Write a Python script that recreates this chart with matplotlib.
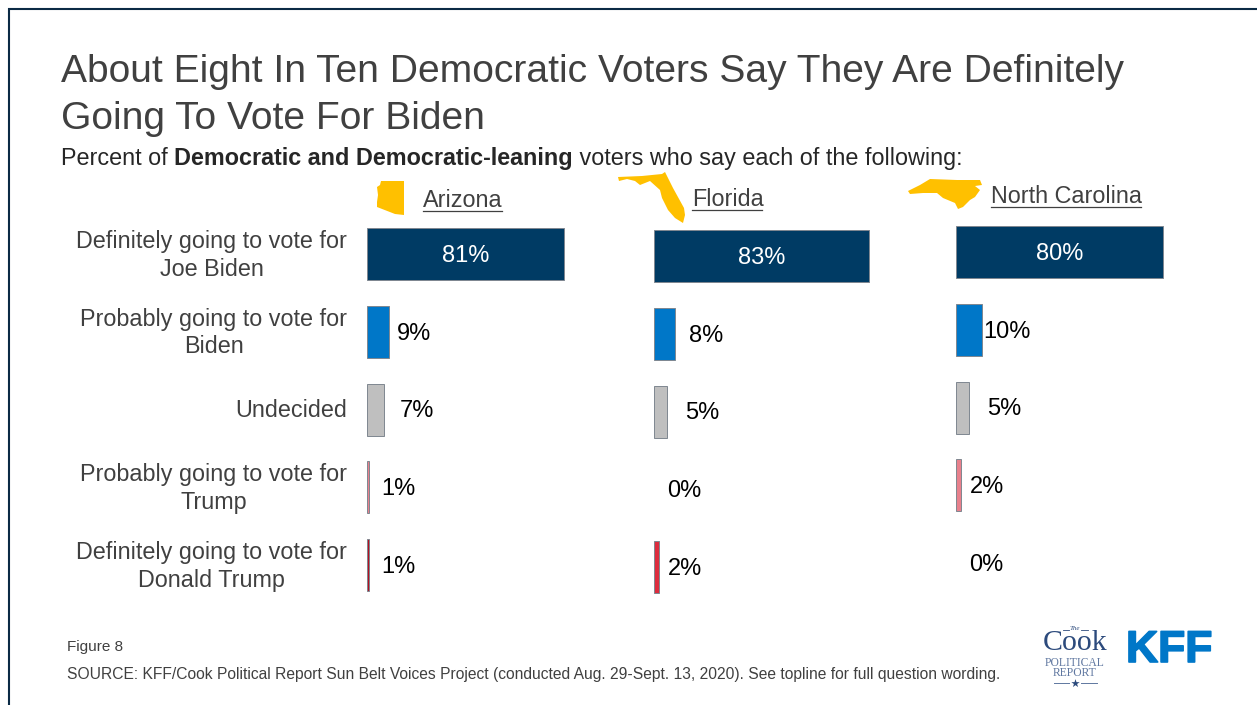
import matplotlib
matplotlib.use('Agg')
import matplotlib.pyplot as plt
from matplotlib.patches import Polygon
from matplotlib.transforms import ScaledTranslation
import matplotlib.patheffects as pe

plt.rcParams['font.family'] = ['Liberation Sans', 'DejaVu Sans']

# ------------------------------------
# Data
# ------------------------------------
categories = ['Definitely going to vote for\nJoe Biden',
              'Probably going to vote for\nBiden',
              'Undecided',
              'Probably going to vote for\nTrump',
              'Definitely going to vote for\nDonald Trump']
arizona = [81, 9, 7, 1, 1]
florida = [83, 8, 5, 0, 2]
north_carolina = [80, 10, 5, 2, 0]

colors = ['#003B64', '#0077C8', '#BFBFBF', '#E8808C', '#DD2C3E']
az_colors = ['#003B64', '#0077C8', '#BFBFBF', '#E8808C', '#B50F20']
W, H = 1257, 705
text_grey = '#404040'

fig = plt.figure(figsize=(W / 100, H / 100), dpi=100)

# overlay in pixel coordinates for the slide furniture
bg = fig.add_axes([0, 0, 1, 1])
bg.set_xlim(0, W)
bg.set_ylim(H, 0)
bg.axis('off')


def panel(values, left, top, px_per_unit, offsets, bar_colors, show_labels=False):
    # rows are 77.8 px apart
    row = 77.8
    width = 100 * px_per_unit
    height = 5 * row
    ax = fig.add_axes([left / W, 1 - (top + height) / H, width / W, height / H])
    for i, v in enumerate(values):
        if v > 0:
            ax.barh(i, v, height=52 / row, color=bar_colors[i],
                    edgecolor='#7F8790', linewidth=0.7)
    ax.set_xlim(0, 100)
    ax.set_ylim(4.5, -0.5)
    ax.patch.set_visible(False)
    for s in ax.spines.values():
        s.set_visible(False)
    ax.set_xticks([])
    if show_labels:
        ax.set_yticks(range(len(values)))
        ax.set_yticklabels(categories, fontsize=16.8, color=text_grey,
                           multialignment='center', linespacing=1.26)
        ax.tick_params(axis='y', length=0, pad=14.4)
        for lab in ax.get_yticklabels():
            up = 3.5 if '\n' in lab.get_text() else 1.5
            lab.set_transform(lab.get_transform()
                              + ScaledTranslation(0, up / 100, fig.dpi_scale_trans))
    else:
        ax.set_yticks([])
    for i, v in enumerate(values):
        if i == 0:
            ax.text(v / 2, i, f'{v}%', color='white', fontsize=17,
                    ha='center', va='center_baseline')
        else:
            ax.annotate(f'{v}%', (v, i), xytext=(offsets[i] * 0.72, 0.5),
                        textcoords='offset points', fontsize=17, color='black',
                        ha='left', va='center_baseline')
    return ax


panel(arizona, 367, 215.1, 2.43, [0, 8, 16, 12, 12], az_colors, show_labels=True)
panel(florida, 654, 217.1, 2.59, [0, 14, 18, 13, 9], colors)
panel(north_carolina, 956, 213.1, 2.59, [0, 1, 18, 9, 13], colors)

# ------------------------------------
# Frame, title, subtitle
# ------------------------------------
bg.plot([9, 9, W], [H, 9, 9], color='#0B2A45', lw=1.5, solid_joinstyle='miter')

bg.text(61, 68, 'About Eight In Ten Democratic Voters Say They Are Definitely',
        fontsize=28.1, color=text_grey, va='center_baseline')
bg.text(61, 115, 'Going To Vote For Biden', fontsize=28.1, color=text_grey,
        va='center_baseline')

parts = [('Percent of ', 'normal'), ('Democratic and Democratic-leaning', 'bold'),
         (' voters who say each of the following:', 'normal')]
x = 61
rend = fig.canvas.get_renderer()
for s, wt in parts:
    t = bg.text(x, 165, s.replace(' ', '\u00a0'), fontsize=16.8, fontweight=wt,
                color='#262626', va='baseline')
    x = t.get_window_extent(rend).x1

# ------------------------------------
# State headers with shape icons
# ------------------------------------
gold = '#FFC000'
az_shape = [(381, 181), (404, 181), (404, 215), (395, 214), (377, 207), (377, 202),
            (378, 195), (377, 187), (380, 185)]
fl_shape = [(618, 177), (642, 176), (662, 174), (665, 172), (673, 188), (684, 208),
            (685, 215), (683, 223), (675, 218), (668, 210), (662, 198), (660, 190),
            (650, 181), (640, 185), (635, 181), (627, 179), (619, 181)]
nc_shape = [(908, 191), (920, 185), (930, 179), (957, 180), (980, 180), (982, 185),
            (975, 186), (980, 190), (975, 197), (970, 200), (963, 207), (958, 209),
            (955, 203), (943, 198), (937, 193), (923, 193), (910, 194)]
for shape in [az_shape, fl_shape, nc_shape]:
    bg.add_patch(Polygon(shape, closed=True, facecolor=gold, edgecolor='none'))

for name, x0, x1, yb in [('Arizona', 423, 502, 207), ('Florida', 692, 762, 206),
                         ('North Carolina', 991, 1141, 203)]:
    bg.text(x0, yb, name, fontsize=16.8, color=text_grey, va='baseline')
    bg.plot([x0, x1], [yb + 3.5, yb + 3.5], color=text_grey, lw=0.9)

# ------------------------------------
# Footer and logos
# ------------------------------------
bg.text(67, 647.5, 'Figure 8', fontsize=11, color=text_grey, va='center')
bg.text(67, 674, 'SOURCE: KFF/Cook Political Report Sun Belt Voices Project '
        '(conducted Aug. 29-Sept. 13, 2020). See topline for full question wording.',
        fontsize=11.25, color=text_grey, va='center')

cook = '#2C4A7C'
bg.text(1075, 628.5, 'The', fontsize=5, family='Liberation Serif', style='italic',
        color=cook, ha='center', va='center')
bg.plot([1063, 1069], [630, 630], color=cook, lw=0.6)
bg.plot([1081, 1088], [630, 630], color=cook, lw=0.6)
bg.text(1075, 650.5, 'Cook', fontsize=21.5, family='Liberation Serif', color=cook,
        ha='center', va='baseline')
bg.text(1075, 662.5, 'POLITICAL', fontsize=8.4, family='Liberation Serif', color='#5F77A0',
        ha='center', va='center')
bg.text(1075, 673.5, 'REPORT', fontsize=8.4, family='Liberation Serif', color='#5F77A0',
        ha='center', va='center')
bg.plot([1054, 1069], [683, 683], color='#5F77A0', lw=0.7)
bg.plot([1081, 1097], [683, 683], color='#5F77A0', lw=0.7)
bg.scatter([1075], [683], marker='*', s=40, color=cook, linewidths=0)

bg.text(1126, 630, 'KFF', fontsize=32, fontweight='bold', color='#0077C8', va='top',
        path_effects=[pe.withStroke(linewidth=1.2, foreground='#0077C8')])

fig.savefig('out.png', dpi=100)
